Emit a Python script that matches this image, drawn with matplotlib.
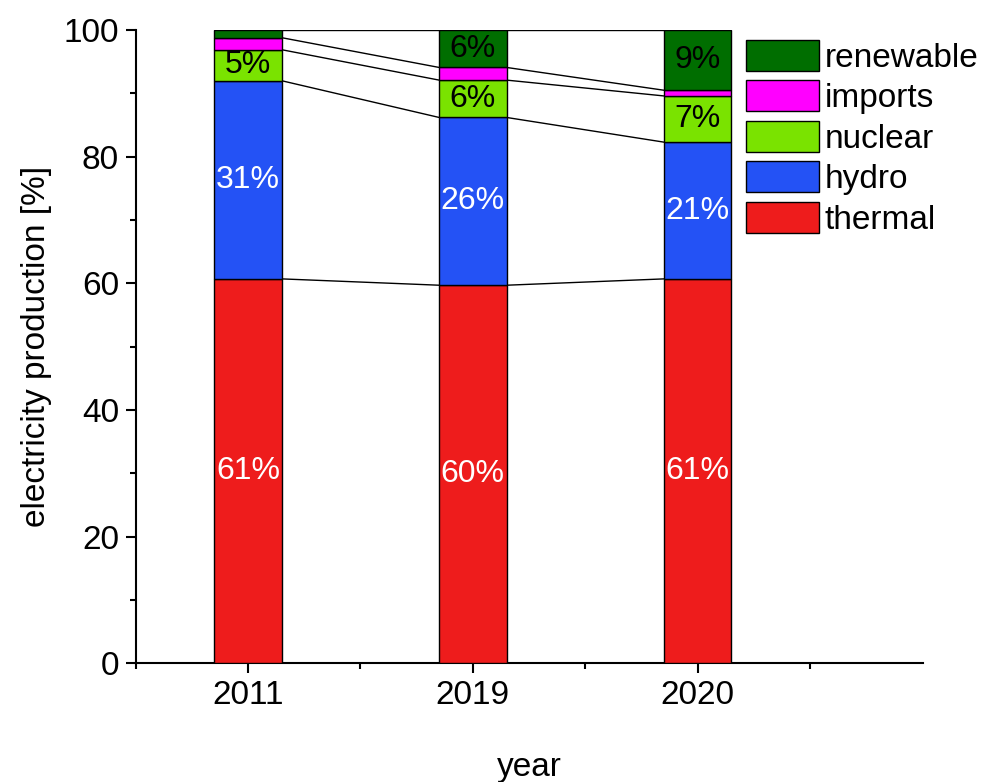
import matplotlib.pyplot as plt
import numpy as np
from matplotlib.ticker import MultipleLocator, FixedLocator

plt.rcParams['font.family'] = ['Liberation Sans', 'DejaVu Sans']

years = ['2011', '2019', '2020']
sources = ['thermal', 'hydro', 'nuclear', 'imports', 'renewable']
thermal = [60.7, 59.7, 60.7]
hydro = [31.3, 26.5, 21.6]
nuclear = [4.9, 5.9, 7.3]
imports = [1.9, 2.0, 0.9]
renewable = [1.2, 5.9, 9.5]
colors = ['#ee1c1c', '#2452f5', '#7ae300', '#ff00ff', '#006e00']

# text shown inside the segments (None = no label)
seg_labels = {
    'thermal': ['61%', '60%', '61%'],
    'hydro': ['31%', '26%', '21%'],
    'nuclear': ['5%', '6%', '7%'],
    'imports': [None, None, None],
    'renewable': [None, '6%', '9%'],
}
label_colors = {'thermal': 'white', 'hydro': 'white', 'nuclear': 'black',
                'imports': 'black', 'renewable': 'black'}

data = [thermal, hydro, nuclear, imports, renewable]

fig = plt.figure(figsize=(9.92, 7.82), dpi=100)
ax = fig.add_axes([0.1367, 0.152, 0.7933, 0.8095])

x = np.arange(len(years))
w = 0.3
bottom = np.zeros(len(years))
bars = []
for name, vals, col in zip(sources, data, colors):
    vals = np.array(vals)
    b = ax.bar(x, vals, w, bottom=bottom, color=col, edgecolor='black',
               linewidth=1.0, label=name, zorder=3)
    bars.append(b)
    for i in range(len(years)):
        t = seg_labels[name][i]
        if t:
            ax.text(x[i], bottom[i] + vals[i] / 2, t, ha='center', va='center',
                    fontsize=23, color=label_colors[name], zorder=4)
    bottom = bottom + vals
    # connecting lines between stacks at each boundary
    for i in range(len(years) - 1):
        ax.plot([x[i] + w / 2, x[i + 1] - w / 2], [bottom[i], bottom[i + 1]],
                color='black', lw=1.0, zorder=2)

ax.set_xlim(-0.5, 3.0)
ax.set_ylim(0, 100)
ax.set_xticks(x)
ax.set_xticklabels(years)
ax.xaxis.set_minor_locator(FixedLocator([-0.5, 0.5, 1.5, 2.5]))
ax.yaxis.set_major_locator(MultipleLocator(20))
ax.yaxis.set_minor_locator(MultipleLocator(10))
ax.tick_params(which='major', direction='out', length=7, width=1.5,
               labelsize=24, pad=5)
ax.tick_params(which='minor', direction='out', length=4, width=1.5)

ax.spines['top'].set_visible(False)
ax.spines['right'].set_visible(False)
ax.spines['left'].set_linewidth(1.5)
ax.spines['bottom'].set_linewidth(1.5)

ax.set_ylabel('electricity production [%]', fontsize=24, labelpad=8)
ax.set_xlabel('year', fontsize=24, labelpad=30)

handles = bars[::-1]
labels = sources[::-1]
fig.legend(handles, labels, loc='upper left', bbox_to_anchor=(0.752, 0.949),
           frameon=False, fontsize=24, handlelength=2.2, handleheight=1.05,
           handletextpad=0.15, labelspacing=0.2, borderpad=0, borderaxespad=0)

fig.savefig('out.png', dpi=100)
